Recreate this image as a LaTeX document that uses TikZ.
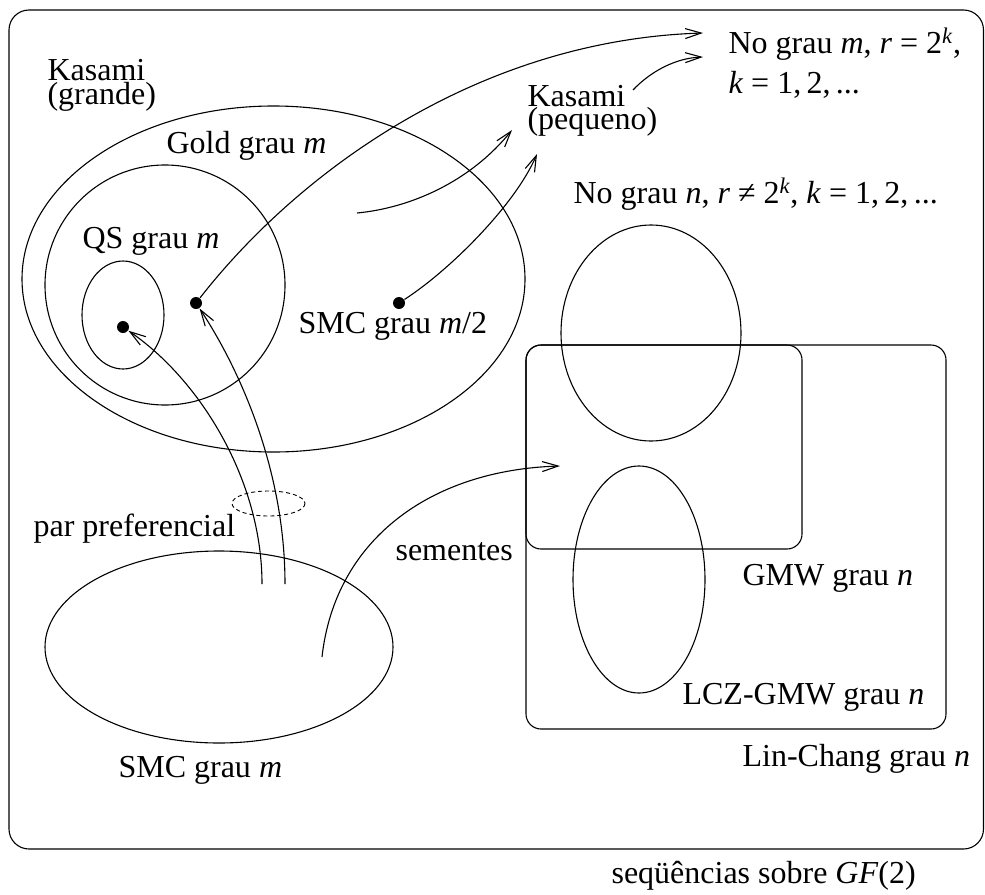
\documentclass[tikz,border=0pt]{standalone}
\usepackage{fontspec}
\setmainfont{Liberation Serif}
\usetikzlibrary{arrows.meta}
\begin{document}
\begin{tikzpicture}[x=1pt,y=-1pt, line width=1.1pt,
  lbl/.style={anchor=base west, inner sep=0pt, font=\fontsize{32}{34}\selectfont},
  dotn/.style={circle, fill=black, draw=none, inner sep=0pt, minimum size=12pt},
  arr/.style={-{Straight Barb[length=16pt,width=10pt]}},
  setshape/.style={draw=black},
  dashset/.style={draw=black, line width=0.9pt, dash pattern=on 4pt off 3pt}]
\useasboundingbox (0,0) rectangle (985,894);
% outer frame
\draw[setshape, rounded corners=20pt] (9,10) rectangle (983.5,849);
% sets
\draw[setshape] (273.5,279) ellipse [x radius=251.5, y radius=173];
\draw[setshape] (165,285) ellipse [x radius=120, y radius=120];
\draw[setshape] (123,315) ellipse [x radius=41, y radius=54];
\draw[setshape] (219,647) ellipse [x radius=174, y radius=96];
\draw[dashset] (268.5,503.5) ellipse [x radius=36.5, y radius=12.5];
\draw[setshape] (651,333) ellipse [x radius=90, y radius=108];
\draw[setshape, rounded corners=15pt] (526,345) rectangle (802,549);
\draw[setshape, rounded corners=15pt] (526,345) rectangle (946,729);
\draw[setshape] (639,579.5) ellipse [x radius=66, y radius=113.5];
% dots
\node[dotn] (dotQ) at (123,327) {};
\node[dotn] (dotG) at (196,303) {};
\node[dotn] (dotS) at (399,303) {};
% labels
\node[lbl] (kgA) at (47,80) {Kasami};
\node[lbl] (kgB) at (47,104) {(grande)};
\node[lbl] (gold) at (166,153) {Gold grau \textit{m}};
\node[lbl] (qs) at (82,248) {QS grau \textit{m}};
\node[lbl] (smch) at (298,333) {SMC grau \textit{m}/2};
\node[lbl] (kpA) at (527,106) {Kasami};
\node[lbl] (kpB) at (527,129) {(pequeno)};
\node[lbl] (nomA) at (728,53) {No grau \textit{m}, \textit{r} = 2\textsuperscript{\textit{k}},};
\node[lbl] (nomB) at (728,93) {\textit{k} = 1,\,2,\,...};
\node[lbl] (non) at (573,203) {No grau \textit{n}, \textit{r} ≠ 2\textsuperscript{\textit{k}}, \textit{k} = 1,\,2,\,...};
\node[lbl] (par) at (33,536) {par preferencial};
\node[lbl] (sem) at (395,560) {sementes};
\node[lbl] (smcm) at (118,777) {SMC grau \textit{m}};
\node[lbl] (gmw) at (742,585) {GMW grau \textit{n}};
\node[lbl] (lcz) at (682,704) {LCZ-GMW grau \textit{n}};
\node[lbl] (lin) at (742,766) {Lin-Chang grau \textit{n}};
\node[lbl] (seq) at (611,883) {seqüências sobre \textit{GF}(2)};
% connector ends
\coordinate (tipA) at (703,33);
\coordinate (tipB) at (703,57);
\coordinate (tipC) at (512,130);
\coordinate (tipD) at (537,154);
\coordinate (tipE) at (560,466);
\coordinate (stC) at (357,213);
\coordinate (stB) at (633,90);
\coordinate (stE) at (322,657);
\coordinate (stL) at (262,584);
\coordinate (stR) at (285,584);
% connectors
\draw[arr] (dotG) .. controls (300,170) and (480,40) .. (tipA);
\draw[arr] (stB) .. controls (650,72) and (675,58) .. (tipB);
\draw[arr] (stC) .. controls (410,208) and (470,182) .. (tipC);
\draw[arr] (dotS) .. controls (450,270) and (515,205) .. (tipD);
\draw[arr] (stE) .. controls (335,540) and (430,470) .. (tipE);
\draw[arr] (stL) .. controls (262,480) and (200,380) .. (dotQ);
\draw[arr] (stR) .. controls (285,470) and (240,370) .. (dotG);
\end{tikzpicture}
\end{document}
